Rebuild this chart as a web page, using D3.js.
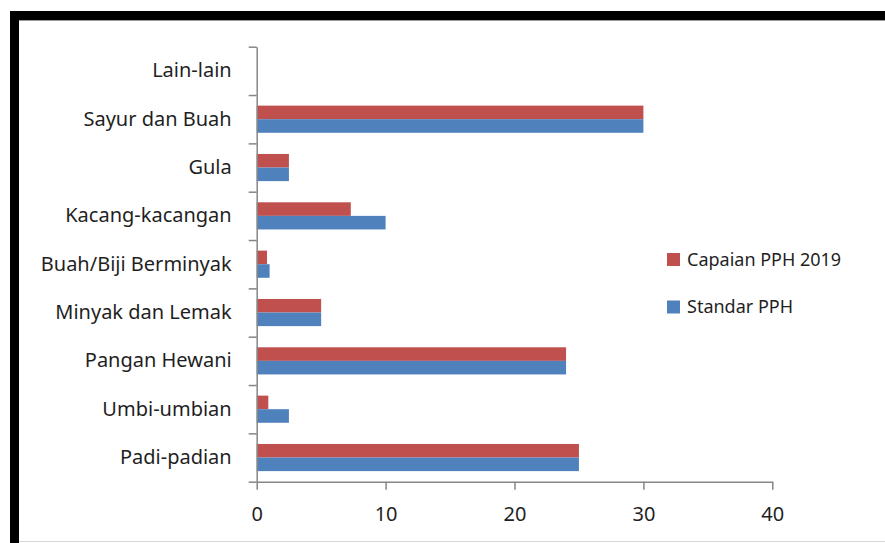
<!DOCTYPE html>
<html>
<head>
<meta charset="utf-8">
<script src="https://cdn.jsdelivr.net/npm/d3@7"></script>
<style>
  html, body { margin: 0; padding: 0; background: #fff; }
  svg { display: block; }
  text { font-family: "Noto Sans", "Open Sans", sans-serif; fill: #1f1f1f; }
</style>
</head>
<body>
<svg id="chart" width="885" height="543"></svg>
<script>
// Food groups, listed from the bottom of the axis upward
const categories = [
  "Padi-padian",
  "Umbi-umbian",
  "Pangan Hewani",
  "Minyak dan Lemak",
  "Buah/Biji Berminyak",
  "Kacang-kacangan",
  "Gula",
  "Sayur dan Buah",
  "Lain-lain"
];
const capaian2019 = [25, 0.9, 24, 5, 0.8, 7.3, 2.5, 30, 0];
const standarPPH  = [25, 2.5, 24, 5, 1.0, 10, 2.5, 30, 0];
const seriesNames = ["Capaian PPH 2019", "Standar PPH"];
const seriesColors = ["#C0504D", "#4F81BD"];
const xTicks = [0, 10, 20, 30, 40];

const svg = d3.select("#chart");

// Frame: heavy black bar on top and left, faint line at the bottom
svg.append("rect").attr("x", 10).attr("y", 11).attr("width", 875).attr("height", 9).attr("fill", "#000");
svg.append("rect").attr("x", 10).attr("y", 11).attr("width", 9).attr("height", 532).attr("fill", "#000");
svg.append("line").attr("x1", 19).attr("x2", 885).attr("y1", 20.5).attr("y2", 20.5).attr("stroke", "#9a9a9a").attr("stroke-width", 1);
svg.append("line").attr("x1", 19).attr("x2", 885).attr("y1", 541.5).attr("y2", 541.5).attr("stroke", "#d6d6d6").attr("stroke-width", 1);

const plot = { left: 256.7, right: 772.3, top: 46.7, bottom: 481.7 };

const x = d3.scaleLinear().domain([0, 40]).range([plot.left, plot.right]);
const y = d3.scaleBand().domain(categories).range([plot.bottom, plot.top]).paddingInner(0).paddingOuter(0);
const sub = d3.scaleBand().domain(seriesNames).range([0, y.bandwidth()]).paddingInner(0).paddingOuter(0.78);

const rows = categories.map((c, i) => ({ cat: c, values: [capaian2019[i], standarPPH[i]] }));

// Bars
const groups = svg.append("g").selectAll("g").data(rows).join("g")
  .attr("transform", d => `translate(0,${y(d.cat)})`);
groups.selectAll("rect")
  .data(d => d.values.map((v, k) => ({ v, k })))
  .join("rect")
  .attr("x", x(0))
  .attr("y", d => sub(seriesNames[d.k]))
  .attr("width", d => x(d.v) - x(0))
  .attr("height", sub.bandwidth())
  .attr("fill", d => seriesColors[d.k]);

const axisColor = "#868686";

// Category axis: boundary ticks from an index scale, labels at band centers
const idx = d3.scaleLinear().domain([0, categories.length]).range([plot.bottom, plot.top]);
const yTickAxis = svg.append("g").attr("transform", `translate(${plot.left},0)`)
  .call(d3.axisLeft(idx).tickValues(d3.range(categories.length + 1)).tickSize(8).tickSizeOuter(0).tickFormat(""));
yTickAxis.selectAll("line, path").attr("stroke", axisColor).attr("stroke-width", 1.5);

const yLabelAxis = svg.append("g").attr("transform", `translate(${plot.left},0)`)
  .call(d3.axisLeft(y).tickSize(0).tickPadding(25));
yLabelAxis.select(".domain").remove();
yLabelAxis.selectAll("text").attr("font-size", 20).attr("font-family", null).style("fill", "#1f1f1f");

// Value axis
const xAxis = svg.append("g").attr("transform", `translate(0,${plot.bottom})`)
  .call(d3.axisBottom(x).tickValues(xTicks).tickSize(8).tickSizeOuter(0).tickPadding(17));
xAxis.selectAll("line, path").attr("stroke", axisColor).attr("stroke-width", 1.5);
xAxis.selectAll("text").attr("font-size", 20).attr("font-family", null).style("fill", "#1f1f1f");

// Legend
const legend = svg.append("g").attr("transform", "translate(667,0)");
const legendY = [259.5, 307];
seriesNames.forEach((name, k) => {
  legend.append("rect").attr("x", 0).attr("y", legendY[k] - 6.5).attr("width", 13).attr("height", 13).attr("fill", seriesColors[k]);
  legend.append("text").attr("x", 20).attr("y", legendY[k]).attr("dy", "0.35em")
    .attr("font-size", 18).text(name);
});
</script>
</body>
</html>
